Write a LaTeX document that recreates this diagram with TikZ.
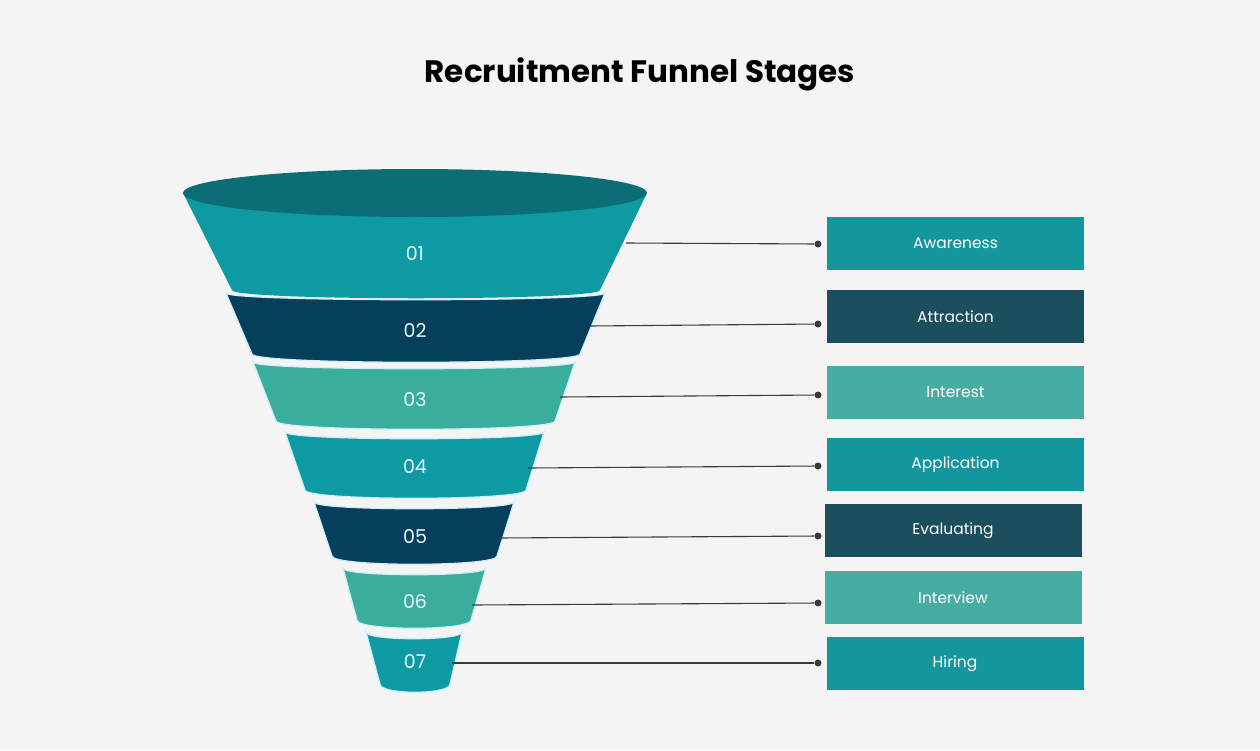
\documentclass[tikz,border=0pt]{standalone}
\usepackage{fontspec}
\setmainfont{Poppins}
\definecolor{bg}{HTML}{F4F4F4}
\definecolor{tealA}{HTML}{0E9AA3}
\definecolor{tealTop}{HTML}{0B6E74}
\definecolor{darkB}{HTML}{053F5B}
\definecolor{lightC}{HTML}{3AAE9C}
\definecolor{boxA}{HTML}{13979D}
\definecolor{boxB}{HTML}{1C4F5E}
\definecolor{boxC}{HTML}{47ADA2}
\definecolor{linec}{HTML}{3A3A3A}
\tikzset{
  lab/.style={text=white!92!cyan,font=\fontsize{19}{19}\selectfont},
  stagebox/.style={minimum width=257pt,minimum height=53pt,inner sep=0pt,text=white,font=\fontsize{15.5}{15.5}\selectfont},
  dotn/.style={circle,fill=linec,inner sep=0pt,minimum size=7pt},
  conn/.style={draw=linec,line width=1.1pt}
}
\newcommand{\fband}[7]{%
  \fill[#7,draw=white!80!cyan,line width=1.2pt] (#1,#2) .. controls (#1,#2+9) and (#3,#2+9) .. (#3,#2) -- (#6,#5) .. controls (#6,#5+11) and (#4,#5+11) .. (#4,#5) -- cycle;}
\begin{document}
\begin{tikzpicture}[x=1pt,y=-1pt]
\fill[bg] (0,0) rectangle (1260,750);
\useasboundingbox (0,0) rectangle (1260,750);
\node[font=\bfseries\fontsize{31}{31}\selectfont] (title) at (640,74) {Recruitment Funnel Stages};
% funnel
\fill[tealA] (183,193) .. controls (183,205) and (647,205) .. (647,193) -- (600,290) .. controls (600,301) and (232,301) .. (232,290) -- cycle;
\fill[tealTop] (415,193) ellipse [x radius=232, y radius=24];
\fband{226}{293}{605}{252}{354}{580}{darkB}
\fband{253}{362}{575}{276}{421}{555}{lightC}
\fband{285}{432}{544}{305}{490}{526}{tealA}
\fband{314}{502}{514}{332}{556}{497}{darkB}
\fband{343}{568}{486}{357}{620}{471}{lightC}
\fband{366}{632}{462}{380}{684}{450}{tealA}
\node[lab] (n1) at (415,254) {01};
\node[lab] (n2) at (415,331) {02};
\node[lab] (n3) at (415,400) {03};
\node[lab] (n4) at (415,467) {04};
\node[lab] (n5) at (415,537) {05};
\node[lab] (n6) at (415,601) {06};
\node[lab] (n7) at (415,662) {07};
% boxes
\node[stagebox,fill=boxA] (b1) at (955.5,243.5) {Awareness};
\node[stagebox,fill=boxB] (b2) at (955.5,316.5) {Attraction};
\node[stagebox,fill=boxC] (b3) at (955.5,392.5) {Interest};
\node[stagebox,fill=boxA] (b4) at (955.5,464.5) {Application};
\node[stagebox,fill=boxB] (b5) at (953,530.5) {Evaluating};
\node[stagebox,fill=boxC] (b6) at (953,597.5) {Interview};
\node[stagebox,fill=boxA] (b7) at (955,663.5) {Hiring};
% connectors
\foreach \i/\xs/\ys/\yd in {1/626/243/244,2/590/326/324,3/560/397/395,4/528/468/466,5/498/538/536,6/472/605/603,7/452/663/663}{
  \coordinate (s\i) at (\xs,\ys);
  \node[dotn] (d\i) at (818,\yd) {};
  \draw[conn] (s\i) -- (d\i);
}
\end{tikzpicture}
\end{document}
